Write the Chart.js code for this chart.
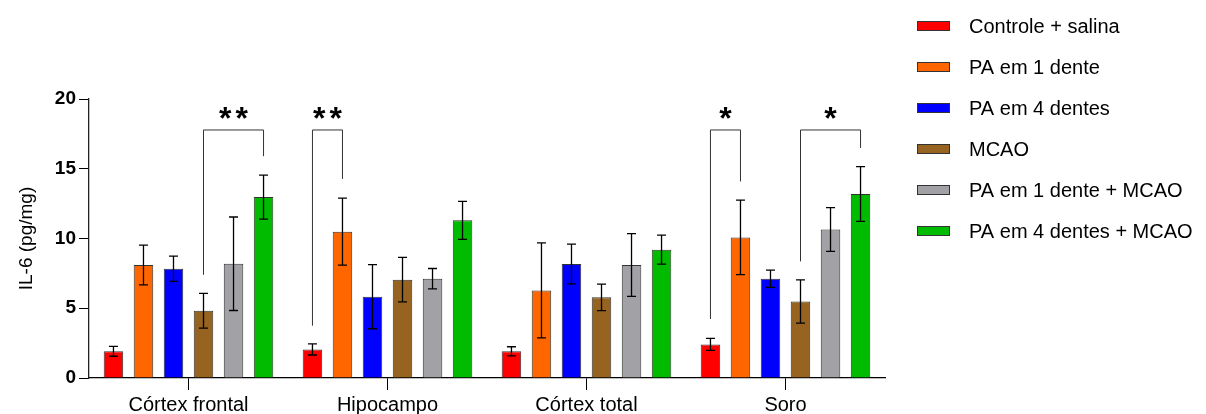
<!DOCTYPE html>
<html><head><meta charset="utf-8">
<script src="https://cdn.jsdelivr.net/npm/chart.js@4"></script>
<style>html,body{margin:0;padding:0;background:#fff}#wrap{width:1206px;height:414px}</style>
</head><body><div id="wrap"><canvas id="c" width="1206" height="414"></canvas></div>
<script>
// ---------- data ----------
const categories = ['Córtex frontal', 'Hipocampo', 'Córtex total', 'Soro'];
const seriesNames = ['Controle + salina', 'PA em 1 dente', 'PA em 4 dentes', 'MCAO', 'PA em 1 dente + MCAO', 'PA em 4 dentes + MCAO'];
const controleSalina    = [1.91, 2.05, 1.91, 2.41];
const controleSalinaErr = [0.35, 0.40, 0.33, 0.43];
const pa1Dente          = [8.10, 10.49, 6.28, 10.08];
const pa1DenteErr       = [1.43, 2.40, 3.40, 2.67];
const pa4Dentes         = [7.83, 5.83, 8.17, 7.12];
const pa4DentesErr      = [0.90, 2.30, 1.42, 0.62];
const mcao              = [4.82, 7.05, 5.78, 5.49];
const mcaoErr           = [1.25, 1.60, 0.95, 1.55];
const pa1DenteMcao      = [8.19, 7.12, 8.10, 10.65];
const pa1DenteMcaoErr   = [3.35, 0.73, 2.25, 1.57];
const pa4DentesMcao     = [12.97, 11.30, 9.20, 13.19];
const pa4DentesMcaoErr  = [1.58, 1.36, 1.04, 1.96];
const yTicks = [0, 5, 10, 15, 20];
// significance brackets
const bracketCategory = [0, 1, 3, 3];
const bracketFrom     = [3, 0, 0, 3];
const bracketTo       = [5, 1, 1, 5];
const bracketFromEnd  = [7.4, 3.75, 4.23, 8.36];
const bracketToEnd    = [15.9, 14.27, 14.09, 16.49];
const bracketTop      = [17.78, 17.78, 17.78, 17.78];
const bracketLabels   = ['**', '**', '*', '*'];

const seriesValues = [controleSalina, pa1Dente, pa4Dentes, mcao, pa1DenteMcao, pa4DentesMcao];
const seriesErrors = [controleSalinaErr, pa1DenteErr, pa4DentesErr, mcaoErr, pa1DenteMcaoErr, pa4DentesMcaoErr];
const colors = ['#FF0000', '#FF6600', '#0000FF', '#966321', '#A2A2A6', '#00BB00'];
const FONT = "'Liberation Sans', Arial, sans-serif";

const errorBarsPlugin = {
  id: 'errorBars',
  afterDatasetsDraw(chart) {
    const ctx = chart.ctx, ys = chart.scales.y;
    ctx.save();
    ctx.strokeStyle = '#000';
    ctx.lineWidth = 1.3;
    chart.data.datasets.forEach((ds, i) => {
      const meta = chart.getDatasetMeta(i);
      meta.data.forEach((bar, j) => {
        const v = seriesValues[i][j], e = seriesErrors[i][j];
        const yt = ys.getPixelForValue(v + e), yb = ys.getPixelForValue(v - e);
        const x = bar.x, cw = 4.5;
        ctx.beginPath();
        ctx.moveTo(x, yt); ctx.lineTo(x, yb);
        ctx.moveTo(x - cw, yt); ctx.lineTo(x + cw, yt);
        ctx.moveTo(x - cw, yb); ctx.lineTo(x + cw, yb);
        ctx.stroke();
      });
    });
    ctx.restore();
  }
};

const bracketPlugin = {
  id: 'brackets',
  afterDraw(chart) {
    const ctx = chart.ctx, ys = chart.scales.y;
    ctx.save();
    ctx.strokeStyle = '#333';
    ctx.lineWidth = 1;
    bracketCategory.forEach((c, k) => {
      const x1 = chart.getDatasetMeta(bracketFrom[k]).data[c].x;
      const x2 = chart.getDatasetMeta(bracketTo[k]).data[c].x;
      const yTop = ys.getPixelForValue(bracketTop[k]);
      const y1 = ys.getPixelForValue(bracketFromEnd[k]);
      const y2 = ys.getPixelForValue(bracketToEnd[k]);
      ctx.beginPath();
      ctx.moveTo(x1, y1); ctx.lineTo(x1, yTop); ctx.lineTo(x2, yTop); ctx.lineTo(x2, y2);
      ctx.stroke();
      // label
      ctx.fillStyle = '#000';
      ctx.font = 'bold 32px ' + FONT;
      ctx.textAlign = 'center';
      ctx.textBaseline = 'alphabetic';
      const lbl = bracketLabels[k];
      const xm = (x1 + x2) / 2;
      const n = lbl.length, gap = 16.5;
      const yl = yTop - 1;
      for (let s = 0; s < n; s++) {
        ctx.fillText('*', xm + (s - (n - 1) / 2) * gap, yl);
      }
    });
    ctx.restore();
  }
};

const legendPlugin = {
  id: 'sideLegend',
  afterDraw(chart) {
    const ctx = chart.ctx;
    ctx.save();
    ctx.font = '20px ' + FONT;
    ctx.textBaseline = 'middle';
    ctx.textAlign = 'left';
    chart.data.datasets.forEach((ds, i) => {
      const yc = 26 + i * 41;
      ctx.fillStyle = ds.backgroundColor;
      ctx.fillRect(917, yc - 5, 33, 10);
      ctx.strokeStyle = '#333';
      ctx.lineWidth = 1;
      ctx.strokeRect(917.5, yc - 4.5, 32, 9);
      ctx.fillStyle = '#000';
      ctx.fillText(ds.label, 969, yc + 1);
    });
    ctx.restore();
  }
};

new Chart(document.getElementById('c'), {
  type: 'bar',
  data: {
    labels: categories,
    datasets: seriesNames.map((name, i) => ({
      label: name,
      data: seriesValues[i],
      backgroundColor: colors[i],
      borderColor: '#333',
      borderWidth: 1,
      categoryPercentage: 0.905,
      barPercentage: 0.65
    }))
  },
  options: {
    responsive: false,
    animation: false,
    devicePixelRatio: 1,
    layout: { padding: { top: 99, right: 321, bottom: 0, left: 0 } },
    plugins: { legend: { display: false }, tooltip: { enabled: false } },
    scales: {
      x: {
        offset: true,
        afterFit(s) { s.height = 36; },
        border: { color: '#000', width: 1.3 },
        grid: { offset: false, drawOnChartArea: false, tickLength: 12, color: '#000', lineWidth: 1 },
        ticks: { color: '#000', font: { family: FONT, size: 20 }, padding: 3, maxRotation: 0 }
      },
      y: {
        min: 0, max: 20,
        afterFit(s) { s.width = 89; },
        afterBuildTicks(s) { s.ticks = yTicks.map(v => ({ value: v })); },
        border: { color: '#222', width: 1.3 },
        grid: { drawOnChartArea: false, tickLength: 10, color: '#000', lineWidth: 1 },
        ticks: { color: '#000', font: { family: FONT, size: 19, weight: 'bold' }, padding: 3 },
        title: { display: true, text: 'IL-6 (pg/mg)', color: '#000', font: { family: FONT, size: 19 }, padding: { top: 15, bottom: 0 } }
      }
    }
  },
  plugins: [errorBarsPlugin, bracketPlugin, legendPlugin]
});
</script>
</body></html>
